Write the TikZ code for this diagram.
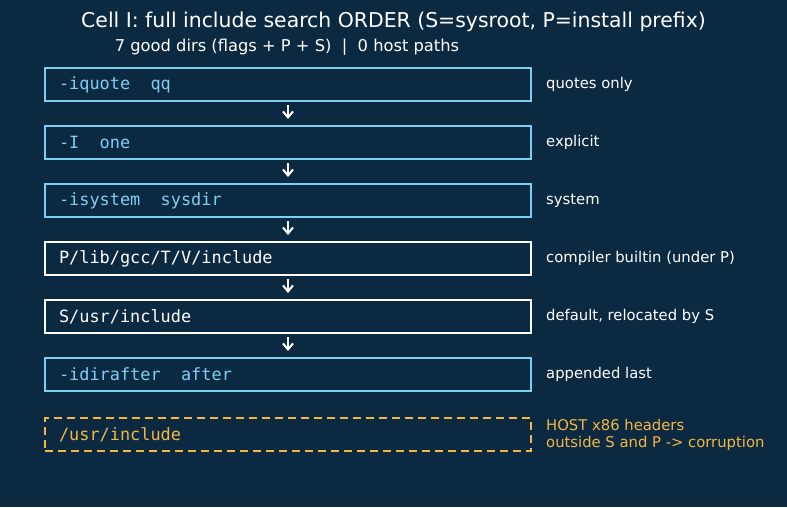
\documentclass[tikz,border=0pt]{standalone}
\usepackage{fontspec}
\setmainfont{DejaVu Sans}
\setmonofont{DejaVu Sans Mono}
\usetikzlibrary{positioning,arrows.meta}
\definecolor{bgnavy}{RGB}{11,42,66}
\definecolor{flagcyan}{RGB}{128,206,244}
\definecolor{hostorange}{RGB}{245,182,66}
\newcommand{\twosp}{\hspace*{1.204em}}
\tikzset{
  dir-box/.style={draw=white, line width=2pt, fill=bgnavy, anchor=north west,
    minimum width=486pt, minimum height=33pt, text width=458pt, align=left,
    inner xsep=14pt, inner ysep=0pt, text=white,
    font=\ttfamily\fontsize{16.9}{18}\selectfont},
  flag-box/.style={dir-box, draw=flagcyan, text=flagcyan},
  host-box/.style={dir-box, draw=hostorange, text=hostorange, dashed,
    dash pattern=on 8pt off 5pt},
  side-label/.style={anchor=west, inner sep=0pt, text=white, align=left,
    font=\fontsize{14.8}{17}\selectfont},
  host-label/.style={side-label, text=hostorange},
  flow-arrow/.style={-{Straight Barb[length=6pt, width=10pt]}, line width=2pt,
    draw=white, shorten <=3pt, shorten >=6pt},
  title-text/.style={text=white, font=\fontsize{20.4}{24}\selectfont},
  subtitle-text/.style={text=white, font=\fontsize{16.3}{19}\selectfont}
}
\begin{document}
\begin{tikzpicture}[x=1pt, y=-1pt, node distance=23pt and 14pt]
\fill[bgnavy] (0,0) rectangle (787,507);
\useasboundingbox (0,0) rectangle (787,507);

% Title lines
\node[title-text] (title) at (393.5,22) {Cell I: full include search ORDER (S=sysroot, P=install prefix)};
\node[subtitle-text] (subtitle) at (287,47) {7 good dirs (flags + P + S)\ \ |\ \ 0 host paths};

% Search order boxes
\node[flag-box] (iquote) at (44,67) {-iquote\twosp qq};
\node[flag-box, below=of iquote] (iflag) {-I\twosp one};
\node[flag-box, below=of iflag] (isystem) {-isystem\twosp sysdir};
\node[dir-box, below=of isystem] (builtin) {P/lib/gcc/T/V/include};
\node[dir-box, below=of builtin] (sysroot) {S/usr/include};
\node[flag-box, below=of sysroot] (idirafter) {-idirafter\twosp after};
\node[host-box, below=25pt of idirafter] (host) {/usr/include};

% Arrows between consecutive boxes
\draw[flow-arrow] (iquote) -- (iflag);
\draw[flow-arrow] (iflag) -- (isystem);
\draw[flow-arrow] (isystem) -- (builtin);
\draw[flow-arrow] (builtin) -- (sysroot);
\draw[flow-arrow] (sysroot) -- (idirafter);

% Side notes
\node[side-label, right=of iquote] (iquote-note) {quotes only};
\node[side-label, right=of iflag] (iflag-note) {explicit};
\node[side-label, right=of isystem] (isystem-note) {system};
\node[side-label, right=of builtin] (builtin-note) {compiler builtin (under P)};
\node[side-label, right=of sysroot] (sysroot-note) {default, relocated by S};
\node[side-label, right=of idirafter] (idirafter-note) {appended last};
\node[host-label, right=of host] (host-note) {HOST x86 headers\\outside S and P -> corruption};
\end{tikzpicture}
\end{document}
